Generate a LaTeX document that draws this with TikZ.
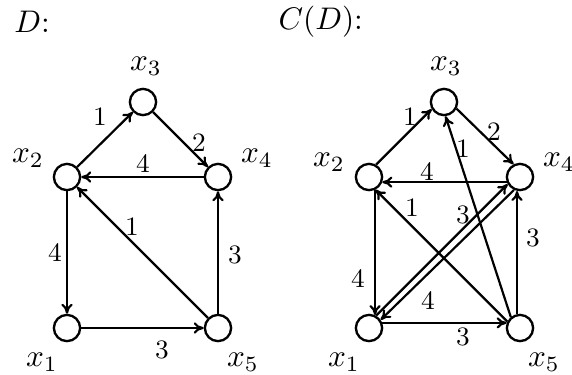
\documentclass[tikz,border=0pt]{standalone}
\usetikzlibrary{arrows.meta}
\begin{document}
\begin{tikzpicture}[x=0.32pt,y=-0.32pt,
  v/.style={draw,circle,line width=0.75pt,minimum size=8.4pt,inner sep=0pt},
  nl/.style={inner sep=0pt},
  wt/.style={inner sep=0pt,font=\fontsize{8.5}{10}\selectfont},
  ar/.style={-{To[length=3.2pt,width=3.6pt]},line width=0.7pt}]
\useasboundingbox (0,0) rectangle (572,374);
% titles
\node[nl] (tD) at (32,22) {$D$:};
\node[nl,anchor=west] (tC) at (278,22) {$C(D)$:};
% left graph
\node[v] (a1) at (67,328) {};
\node[v] (a2) at (67,177) {};
\node[v] (a3) at (143,102) {};
\node[v] (a4) at (218,177) {};
\node[v] (a5) at (218,328) {};
\node[nl] (la1) at (42,362) {$x_1$};
\node[nl] (la2) at (28,158) {$x_2$};
\node[nl] (la3) at (146,66) {$x_3$};
\node[nl] (la4) at (257,158) {$x_4$};
\node[nl] (la5) at (243,362) {$x_5$};
\draw[ar] (a2) -- (a3);
\draw[ar] (a3) -- (a4);
\draw[ar] (a4) -- (a2);
\draw[ar] (a2) -- (a1);
\draw[ar] (a1) -- (a5);
\draw[ar] (a5) -- (a4);
\draw[ar] (a5) -- (a2);
\node[wt] (wa23) at (100,117) {1};
\node[wt] (wa34) at (199,143) {2};
\node[wt] (wa42) at (143,163) {4};
\node[wt] (wa21) at (55,252) {4};
\node[wt] (wa15) at (162,350) {3};
\node[wt] (wa54) at (235,255) {3};
\node[wt] (wa52) at (132,227) {1};
% right graph
\node[v] (b1) at (369,328) {};
\node[v] (b2) at (369,177) {};
\node[v] (b3) at (444,102) {};
\node[v] (b4) at (520,177) {};
\node[v] (b5) at (520,328) {};
\node[nl] (lb1) at (344,362) {$x_1$};
\node[nl] (lb2) at (329,162) {$x_2$};
\node[nl] (lb3) at (446,66) {$x_3$};
\node[nl] (lb4) at (559,162) {$x_4$};
\node[nl] (lb5) at (544,362) {$x_5$};
\draw[ar] (b2.60) -- (b3.210);
\draw[ar] (b3.-28) -- (b4.117);
\draw[ar] (b4.201) -- (b2.-21);
\draw[ar] (b2.-65) -- (b1.65);
\draw[ar] (b1.21) -- (b5.159);
\draw[ar] (b5.102) -- (b4.258);
\draw[ar] (b5.153) -- (b2.-63);
\draw[ar] (b5.130) -- (b3.-84);
\draw[ar] (b1.60) -- (b4.210);
\draw[ar] (b4.245) -- (b1.35);
\node[wt] (wb23) at (410,117) {1};
\node[wt] (wb34) at (494,132) {2};
\node[wt] (wb42) at (427,171) {4};
\node[wt] (wb21) at (358,278) {4};
\node[wt] (wb15) at (463,337) {3};
\node[wt] (wb54) at (533,238) {3};
\node[wt] (wb52) at (412,208) {1};
\node[wt] (wb53) at (463,149) {1};
\node[wt] (wb14) at (463,215) {3};
\node[wt] (wb41) at (428,300) {4};
\end{tikzpicture}
\end{document}
